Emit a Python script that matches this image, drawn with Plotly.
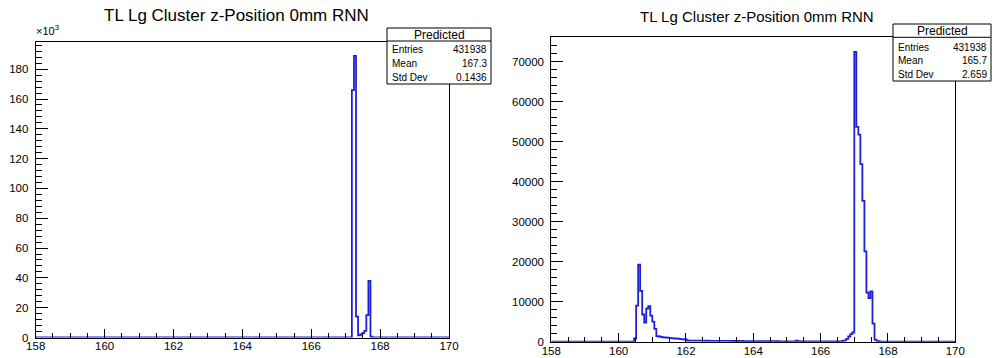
import numpy as np
import plotly.graph_objects as go

# ---------------- data ----------------
BIN_LO = 158.0
BIN_W = 0.06
N_BINS = 200

title_text = "TL Lg Cluster z-Position 0mm RNN"
stats_title = "Predicted"
left_stats = [("Entries", "431938"), ("Mean", "167.3"), ("Std Dev", "0.1436")]
right_stats = [("Entries", "431938"), ("Mean", "165.7"), ("Std Dev", "2.659")]

x_ticks = [158, 160, 162, 164, 166, 168, 170]
left_y_ticks = [0, 20000, 40000, 60000, 80000, 100000, 120000, 140000, 160000, 180000]
left_y_ticktext = ["0", "20", "40", "60", "80", "100", "120", "140", "160", "180"]
right_y_ticks = [0, 10000, 20000, 30000, 40000, 50000, 60000, 70000]

# left histogram: consecutive bin contents starting at left_start
left_start = 167.18
left_counts = [166000, 189000, 14000, 1500, 2000, 3000, 4500, 15000, 38000, 500]

# right histogram segments
right_a_start = 160.40
right_a_counts = [0, 800, 9000, 19300, 12700, 6800, 4800, 8300, 8900, 6500,
                  5000, 3200, 1400, 1300, 1200, 1100, 1050, 1000, 950, 900,
                  850, 800, 750, 700, 650, 600, 550, 300]
right_b_start = 162.02
right_b_counts = [300, 290, 280, 280, 270, 260, 260, 250, 250, 240, 240, 230, 230, 220, 220, 210, 210,
                  200, 200, 190, 190, 190, 180, 180, 180, 170, 170, 170, 160, 160, 160, 150, 150,
                  150, 140, 140, 140, 130, 130, 130, 120, 120, 120, 110, 110, 110, 100, 100, 100, 100,
                  90, 90, 90, 100, 250, 120, 80, 80, 70, 70, 70, 60, 60, 60, 60, 50, 50,
                  50, 50, 50, 50, 50, 60, 60, 70, 80]
right_c_start = 166.58
right_c_counts = [100, 200, 350, 700, 1300, 1900, 2300, 72500, 53700, 51800,
                  44400, 35200, 22600, 12300, 10900, 12600, 4500, 500, 200, 80, 30]


def build(segments):
    h = np.zeros(N_BINS)
    for start, vals in segments:
        i0 = int(round((start - BIN_LO) / BIN_W))
        h[i0:i0 + len(vals)] = vals
    return h


h_left = build([(left_start, left_counts)])
h_right = build([(right_a_start, right_a_counts), (right_b_start, right_b_counts),
                 (right_c_start, right_c_counts)])
edges = BIN_LO + BIN_W * np.arange(N_BINS + 1)

W, H = 992, 358


def px(x):
    return x / W


def py(y):
    return 1 - y / H


LINE = "#1f1fd6"
FONT = "Liberation Sans, Arial, Helvetica, sans-serif"

fig = go.Figure()
for h, xa, ya in [(h_left, "x", "y"), (h_right, "x2", "y2")]:
    xs = np.append(edges[:-1], edges[-1])
    ys = np.append(h, h[-1])
    fig.add_trace(go.Scatter(x=xs, y=ys, mode="lines", line=dict(shape="hv", color=LINE, width=1.8),
                             xaxis=xa, yaxis=ya, showlegend=False, hoverinfo="skip"))

# panel geometry (pixels)
L = dict(x0=35.7, x1=449.0, y0=41.7, y1=337.5)
R = dict(x0=551.3, x1=955.3, y0=37.3, y1=341.7)

left_ymax = 1.05 * max(left_counts)
right_ymax = 1.05 * max(right_c_counts)

xcommon = dict(range=[158, 170], tickvals=x_ticks, ticks="inside", ticklen=9, tickcolor="black",
               showline=True, linecolor="black", linewidth=1, mirror=True, showgrid=False,
               zeroline=False, tickfont=dict(family=FONT, size=11.5, color="black"), automargin=False,
               minor=dict(dtick=0.5, tick0=158, ticks="inside", ticklen=4.5, tickcolor="black", showgrid=False),
               ticklabelstandoff=-2)
ycommon = dict(ticks="inside", ticklen=12, tickcolor="black", showline=True, linecolor="black",
               linewidth=1, mirror=True, showgrid=False, zeroline=False, automargin=False,
               tickfont=dict(family=FONT, size=11.5, color="black"), ticklabelstandoff=4)

fig.update_layout(
    width=W, height=H, margin=dict(l=0, r=0, t=0, b=0, autoexpand=False),
    paper_bgcolor="white", plot_bgcolor="white",
    xaxis=dict(domain=[px(L["x0"]), px(L["x1"])], anchor="y", **xcommon),
    yaxis=dict(domain=[py(L["y1"]), py(L["y0"])], anchor="x", range=[0, left_ymax],
               tickvals=left_y_ticks, ticktext=left_y_ticktext,
               minor=dict(dtick=4000, tick0=0, ticks="inside", ticklen=6, tickcolor="black", showgrid=False),
               **ycommon),
    xaxis2=dict(domain=[px(R["x0"]), px(R["x1"])], anchor="y2", **xcommon),
    yaxis2=dict(domain=[py(R["y1"]), py(R["y0"])], anchor="x2", range=[0, right_ymax],
                tickvals=right_y_ticks, tickformat="d",
                minor=dict(dtick=2000, tick0=0, ticks="inside", ticklen=6, tickcolor="black", showgrid=False),
                **ycommon),
)

ann = []
shapes = []
# titles
ann.append(dict(text=title_text, x=px(236.5), y=py(16), xref="paper", yref="paper", xanchor="center",
                yanchor="middle", showarrow=False, font=dict(family=FONT, size=17, color="black")))
ann.append(dict(text=title_text, x=px(757), y=py(17), xref="paper", yref="paper", xanchor="center",
                yanchor="middle", showarrow=False, font=dict(family=FONT, size=15, color="black")))
# x10^3
ann.append(dict(text="×10<sup>3</sup>", x=px(34), y=py(39), xref="paper", yref="paper", xanchor="left",
                yanchor="bottom", showarrow=False, font=dict(family=FONT, size=11, color="black")))


def stats_box(x0, x1, y0, ysep, y1, rows, row_y):
    shapes.append(dict(type="rect", xref="paper", yref="paper", x0=px(x0), x1=px(x1), y0=py(y1), y1=py(y0),
                       line=dict(color="black", width=1), fillcolor="white", layer="above"))
    shapes.append(dict(type="line", xref="paper", yref="paper", x0=px(x0), x1=px(x1), y0=py(ysep), y1=py(ysep),
                       line=dict(color="black", width=1), layer="above"))
    ann.append(dict(text=stats_title, x=px((x0 + x1) / 2), y=py((y0 + ysep) / 2 + 0.5), xref="paper", yref="paper",
                    xanchor="center", yanchor="middle", showarrow=False,
                    font=dict(family=FONT, size=12, color="black")))
    for (lab, val), yy in zip(rows, row_y):
        ann.append(dict(text=lab, x=px(x0 + 3), y=py(yy), xref="paper", yref="paper", xanchor="left",
                        yanchor="middle", showarrow=False, font=dict(family=FONT, size=10, color="black")))
        ann.append(dict(text=val, x=px(x1 - 2), y=py(yy), xref="paper", yref="paper", xanchor="right",
                        yanchor="middle", showarrow=False, font=dict(family=FONT, size=10, color="black")))


stats_box(387, 491, 28, 41, 84, left_stats, [49, 63, 77])
stats_box(893, 991, 24, 37.3, 81, right_stats, [47, 60.5, 74])

fig.update_layout(annotations=ann, shapes=shapes)
fig.write_html("out.html", config={"displayModeBar": False},
               post_script="document.body.style.margin='0';document.body.style.overflow='hidden';")
